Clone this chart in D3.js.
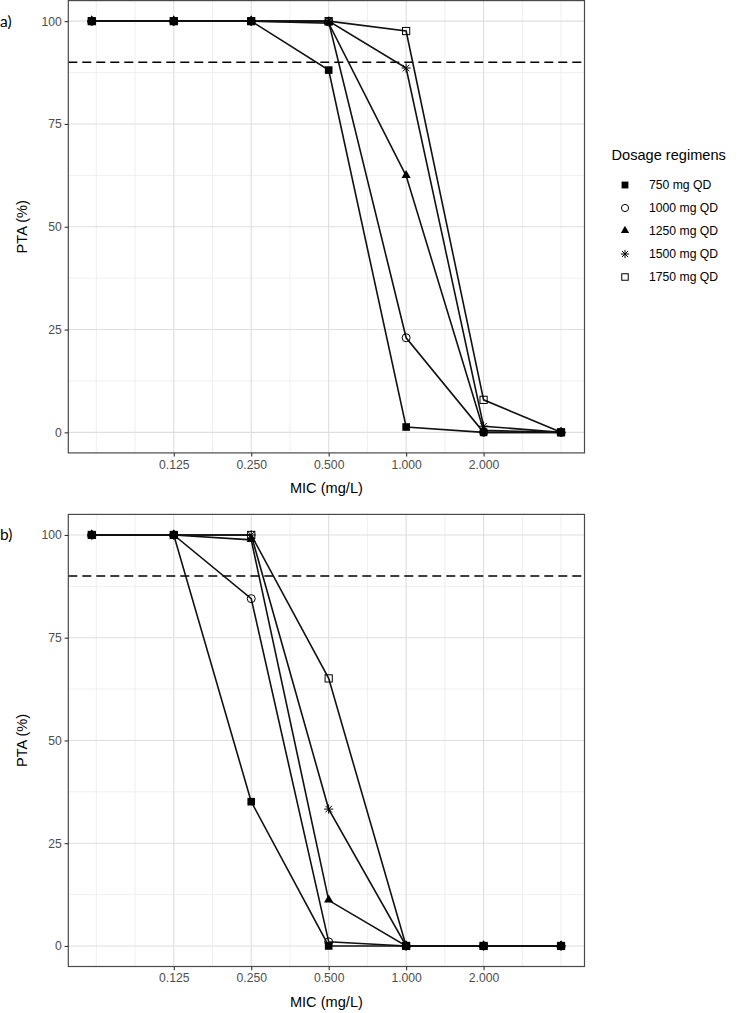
<!DOCTYPE html>
<html><head><meta charset="utf-8">
<script src="https://cdn.jsdelivr.net/npm/d3@7"></script>
<style>body{margin:0;background:#fff}svg{display:block}</style>
</head><body>
<svg id="c" width="750" height="1013"></svg>
<script>
// ---- data ----
const mic = [0.06, 0.125, 0.25, 0.5, 1, 2, 4];
const regimens = ["750 mg QD", "1000 mg QD", "1250 mg QD", "1500 mg QD", "1750 mg QD"];
const shapes = ["squareFilled", "circleOpen", "triangleFilled", "star", "squareOpen"];
const xTickValues = [0.125, 0.25, 0.5, 1, 2];
const xTickLabels = ["0.125", "0.250", "0.500", "1.000", "2.000"];
const yTickValues = [0, 25, 50, 75, 100];
const target = 90;

// panel a
const ptaA750  = [100, 100, 100, 88.1, 1.3, 0, 0];
const ptaA1000 = [100, 100, 100, 99.8, 23.0, 0, 0];
const ptaA1250 = [100, 100, 100, 99.5, 62.4, 0.5, 0];
const ptaA1500 = [100, 100, 100, 100, 88.6, 1.5, 0];
const ptaA1750 = [100, 100, 100, 100, 97.6, 7.9, 0];
// panel b
const ptaB750  = [100, 100, 35.1, 0, 0, 0, 0];
const ptaB1000 = [100, 100, 84.5, 1.0, 0, 0, 0];
const ptaB1250 = [100, 100, 98.8, 11.1, 0, 0, 0];
const ptaB1500 = [100, 100, 100, 33.3, 0, 0, 0];
const ptaB1750 = [100, 100, 100, 65.1, 0, 0, 0];

const panelA = [ptaA750, ptaA1000, ptaA1250, ptaA1500, ptaA1750];
const panelB = [ptaB750, ptaB1000, ptaB1250, ptaB1500, ptaB1750];

// ---- layout ----
const svg = d3.select("#c");
const FONT = "'Liberation Sans', Arial, Helvetica, sans-serif";
const xL = 68.3, xR = 584.5;
const panels = [
  {tag: "a)", top: 0.6, bottom: 452.9, series: panelA},
  {tag: "b)", top: 514.4, bottom: 966.5, series: panelB}
];

// expanded domains (5%)
const lx0 = Math.log2(d3.min(mic)), lx1 = Math.log2(d3.max(mic));
const padX = 0.05 * (lx1 - lx0);
const x = d3.scaleLog().base(2).domain([Math.pow(2, lx0 - padX), Math.pow(2, lx1 + padX)]).range([xL, xR]);
const yDom = [-5, 105];

// minor x breaks (log2 space)
const majL = xTickValues.map(Math.log2);
const extL = [majL[0] - 1, ...majL, majL[majL.length - 1] + 1];
const minorX = [];
for (let i = 0; i < extL.length - 1; i++) { minorX.push(extL[i], (extL[i] + extL[i + 1]) / 2); }
minorX.push(extL[extL.length - 1]);
const minorXv = minorX.filter(v => !majL.includes(v)).map(v => Math.pow(2, v));
const minorY = [-12.5, 12.5, 37.5, 62.5, 87.5, 112.5].filter(v => v > yDom[0] && v < yDom[1]);

function drawMarker(g, shape, cx, cy, sc) {
  sc = sc || 1;
  if (shape === "squareFilled") {
    const a = 3.8 * sc;
    g.append("rect").attr("x", cx - a).attr("y", cy - a).attr("width", 2 * a).attr("height", 2 * a).attr("fill", "#000");
  } else if (shape === "squareOpen") {
    const a = 3.6 * sc;
    g.append("rect").attr("x", cx - a).attr("y", cy - a).attr("width", 2 * a).attr("height", 2 * a)
      .attr("fill", "none").attr("stroke", "#000").attr("stroke-width", 1);
  } else if (shape === "circleOpen") {
    g.append("circle").attr("cx", cx).attr("cy", cy).attr("r", 4 * sc).attr("fill", "none").attr("stroke", "#000").attr("stroke-width", 1);
  } else if (shape === "triangleFilled") {
    const s = 9.2 * sc, h = s * Math.sqrt(3) / 2;
    g.append("path").attr("d", `M${cx},${cy - h * 2 / 3 - 0.5}L${cx + s / 2},${cy + h / 3 - 0.5}L${cx - s / 2},${cy + h / 3 - 0.5}Z`).attr("fill", "#000");
  } else if (shape === "star") {
    const r = 4.6 * sc, d = r / Math.SQRT2;
    g.append("path").attr("d",
      `M${cx - r},${cy}L${cx + r},${cy}M${cx},${cy - r}L${cx},${cy + r}M${cx - d},${cy - d}L${cx + d},${cy + d}M${cx - d},${cy + d}L${cx + d},${cy - d}`)
      .attr("stroke", "#000").attr("stroke-width", 1).attr("fill", "none");
  }
}

panels.forEach(p => {
  const y = d3.scaleLinear().domain(yDom).range([p.bottom, p.top]);
  const g = svg.append("g");

  // grid minor
  g.selectAll(".mx").data(minorXv).join("line")
    .attr("x1", d => x(d)).attr("x2", d => x(d)).attr("y1", p.top).attr("y2", p.bottom)
    .attr("stroke", "#ebebeb").attr("stroke-width", 0.8);
  g.selectAll(".my").data(minorY).join("line")
    .attr("y1", d => y(d)).attr("y2", d => y(d)).attr("x1", xL).attr("x2", xR)
    .attr("stroke", "#ebebeb").attr("stroke-width", 0.8);
  // grid major
  g.selectAll(".Mx").data(xTickValues).join("line")
    .attr("x1", d => x(d)).attr("x2", d => x(d)).attr("y1", p.top).attr("y2", p.bottom)
    .attr("stroke", "#dedede").attr("stroke-width", 1.1);
  g.selectAll(".My").data(yTickValues).join("line")
    .attr("y1", d => y(d)).attr("y2", d => y(d)).attr("x1", xL).attr("x2", xR)
    .attr("stroke", "#dedede").attr("stroke-width", 1.1);

  // target line
  g.append("line").attr("x1", xL).attr("x2", xR).attr("y1", y(target)).attr("y2", y(target))
    .attr("stroke", "#000").attr("stroke-width", 1.5).attr("stroke-dasharray", "9,5");

  // lines
  const line = d3.line().x((d, i) => x(mic[i])).y(d => y(d));
  p.series.forEach(s => {
    g.append("path").attr("d", line(s)).attr("fill", "none").attr("stroke", "#111").attr("stroke-width", 1.6);
  });
  // markers
  p.series.forEach((s, k) => {
    s.forEach((v, i) => drawMarker(g, shapes[k], x(mic[i]), y(v)));
  });

  // border
  g.append("rect").attr("x", xL).attr("y", p.top).attr("width", xR - xL).attr("height", p.bottom - p.top)
    .attr("fill", "none").attr("stroke", "#4a4a4a").attr("stroke-width", 1.2);

  // axes
  const xAxis = d3.axisBottom(x).tickValues(xTickValues).tickFormat((d, i) => xTickLabels[i]).tickSize(3.7).tickSizeOuter(0);
  const gx = g.append("g").attr("transform", `translate(0,${p.bottom})`).call(xAxis);
  const yAxis = d3.axisLeft(y).tickValues(yTickValues).tickFormat(d3.format("d")).tickSize(3.7).tickSizeOuter(0);
  const gy = g.append("g").attr("transform", `translate(${xL},0)`).call(yAxis);
  [gx, gy].forEach(a => {
    a.select(".domain").remove();
    a.selectAll(".tick line").attr("stroke", "#333").attr("stroke-width", 1.1);
    a.selectAll(".tick text").attr("fill", "#4d4d4d").style("font-family", FONT).style("font-size", "12.2px");
  });
  gx.selectAll(".tick text").attr("dy", "0.71em").attr("y", 7);
  gy.selectAll(".tick text").attr("x", -6.5);

  // axis titles
  g.append("text").attr("x", (xL + xR) / 2).attr("y", p.bottom + 40).attr("text-anchor", "middle")
    .style("font-family", FONT).style("font-size", "14.6px").attr("fill", "#000").text("MIC (mg/L)");
  g.append("text").attr("transform", `translate(27,${(p.top + p.bottom) / 2}) rotate(-90)`).attr("text-anchor", "middle")
    .style("font-family", FONT).style("font-size", "14.6px").attr("fill", "#000").text("PTA (%)");

  // panel tag
  g.append("text").attr("x", 0).attr("y", y(100) + 5.5).style("font-family", "Lato, 'Open Sans', sans-serif")
    .style("font-size", "15.5px").attr("fill", "#000").text(p.tag);
});

// legend
const lg = svg.append("g");
lg.append("text").attr("x", 611.5).attr("y", 160).style("font-family", FONT).style("font-size", "14.6px")
  .attr("fill", "#000").text("Dosage regimens");
regimens.forEach((r, k) => {
  const cy = 185 + k * 23;
  drawMarker(lg, shapes[k], 625, cy, 0.9);
  lg.append("text").attr("x", 649).attr("y", cy + 4.3).style("font-family", FONT).style("font-size", "12.2px")
    .attr("fill", "#000").text(r);
});
</script>
</body></html>
